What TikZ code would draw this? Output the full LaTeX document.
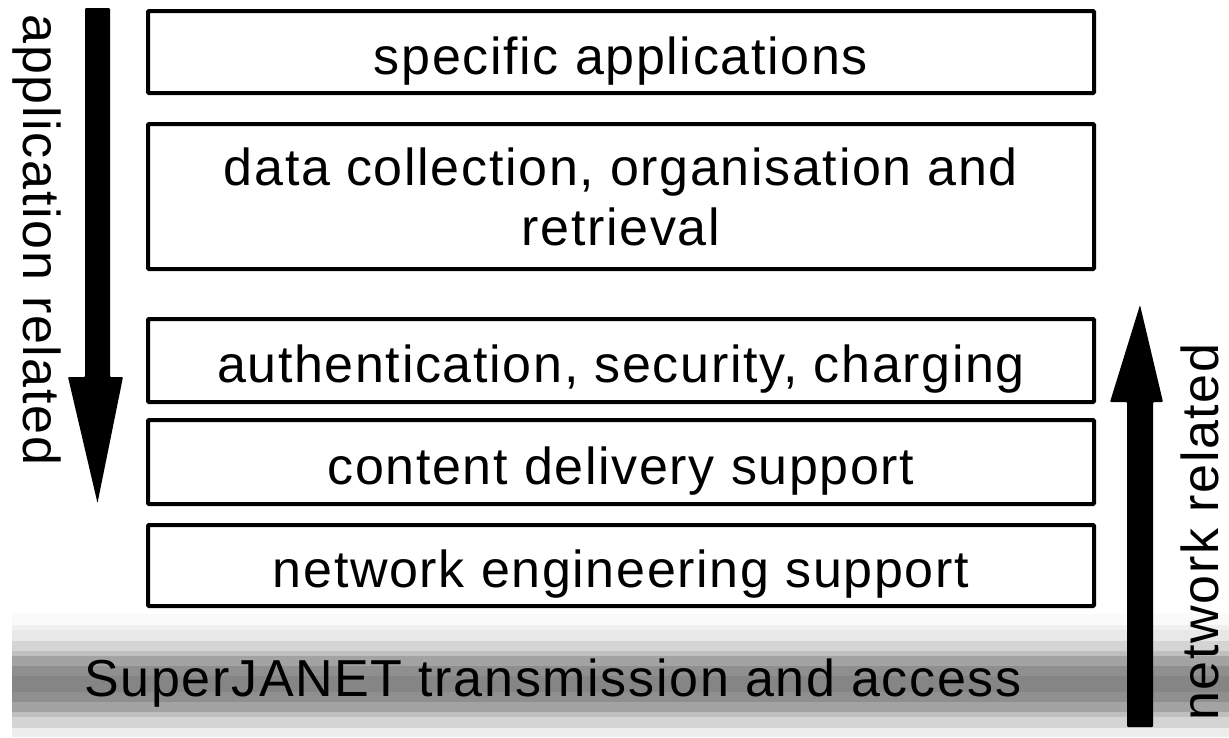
\documentclass[tikz,border=0pt]{standalone}
\usepackage{fontspec}
\setmainfont{Liberation Sans}[LetterSpace=3.2]
\begin{document}
\begin{tikzpicture}[x=1pt,y=-1pt,
  layer/.style={draw=black,line width=4pt,rounded corners=1pt,minimum width=946pt,anchor=north west,inner sep=0pt,font=\fontsize{52}{60}\selectfont,align=center,text height=49pt,text depth=5pt},
  side/.style={font=\fontsize{52}{60}\selectfont,inner sep=0pt},
  bigarrow/.style={fill=black,draw=none}]
\useasboundingbox (0,0) rectangle (1229,737);
\fill[white] (0,0) rectangle (1229,737);
% stripes of the transmission band
\foreach \ya/\yb/\g in {614/625/98,625/630/94,630/641/91,641/651/83,651/656/75,656/666/64,666/676/56,676/692/52,692/702/56,702/712/64,712/717/75,717/728/83,728/737/93}{
  \fill[black!\the\numexpr100-\g\relax] (12,\ya) rectangle (1229,\yb);
}
\node[layer,minimum height=82pt] (apps) at (146,9) {specific applications};
\node[layer,minimum height=145pt,text height=106pt,text depth=8pt] (data) at (146,122) {data collection, organisation and\\retrieval};
\node[layer,minimum height=83pt] (auth) at (146,317) {authentication, security, charging};
\node[layer,minimum height=84pt] (cdel) at (146,418) {content delivery support};
\node[layer,minimum height=81pt] (neng) at (146,523) {network engineering support};
\node[side] (sj) at (553,683) {SuperJANET transmission and access};
% downward arrow, application side
\coordinate (dtop) at (97.5,8);
\coordinate (dtip) at (97.5,503);
\fill[bigarrow,rounded corners=1pt] (85,8) -- (110,8) -- (110,377) -- (123,377) -- (dtip) -- (68,377) -- (85,377) -- cycle;
% upward arrow, network side
\coordinate (utip) at (1140,305);
\fill[bigarrow,rounded corners=1pt] (1127,727) -- (1153,727) -- (1153,402) -- (1163,402) -- (utip) -- (1110,402) -- (1127,402) -- cycle;
\node[side,rotate=-90] (appl) at (37,240) {application related};
\node[side,rotate=90] (netw) at (1200,532) {network related};
\end{tikzpicture}
\end{document}
